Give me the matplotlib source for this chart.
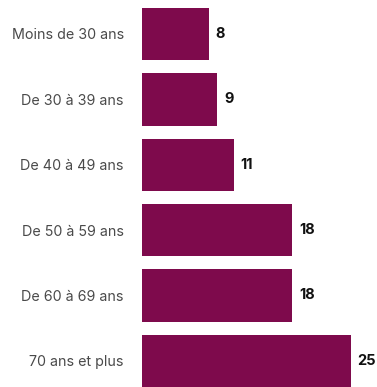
import matplotlib.pyplot as plt

# données
categories = ["Moins de 30 ans", "De 30 à 39 ans", "De 40 à 49 ans",
              "De 50 à 59 ans", "De 60 à 69 ans", "70 ans et plus"]
values = [8, 9, 11, 18, 18, 25]

plt.rcParams['font.family'] = ['Inter', 'DejaVu Sans']

fig = plt.figure(figsize=(3.77, 3.87), dpi=100)
ax = fig.add_axes([142 / 377, 0, (377 - 142) / 377, 1])

ax.barh(range(len(values)), values, height=0.8, color='#7e0a4c')
ax.set_xlim(0, (377 - 142) / 8.36)
ax.set_ylim(5.40, -0.52)

ax.set_yticks(range(len(categories)))
ax.set_yticklabels(categories, fontsize=10.3, color='#4a4a4a')
ax.tick_params(axis='y', length=0, pad=13)
ax.set_xticks([])
for s in ax.spines.values():
    s.set_visible(False)

for i, v in enumerate(values):
    ax.text(v + 0.8, i, str(v), va='center', ha='left',
            fontsize=10.5, fontweight='bold', color='#111111')

fig.savefig("out.png", dpi=100)
